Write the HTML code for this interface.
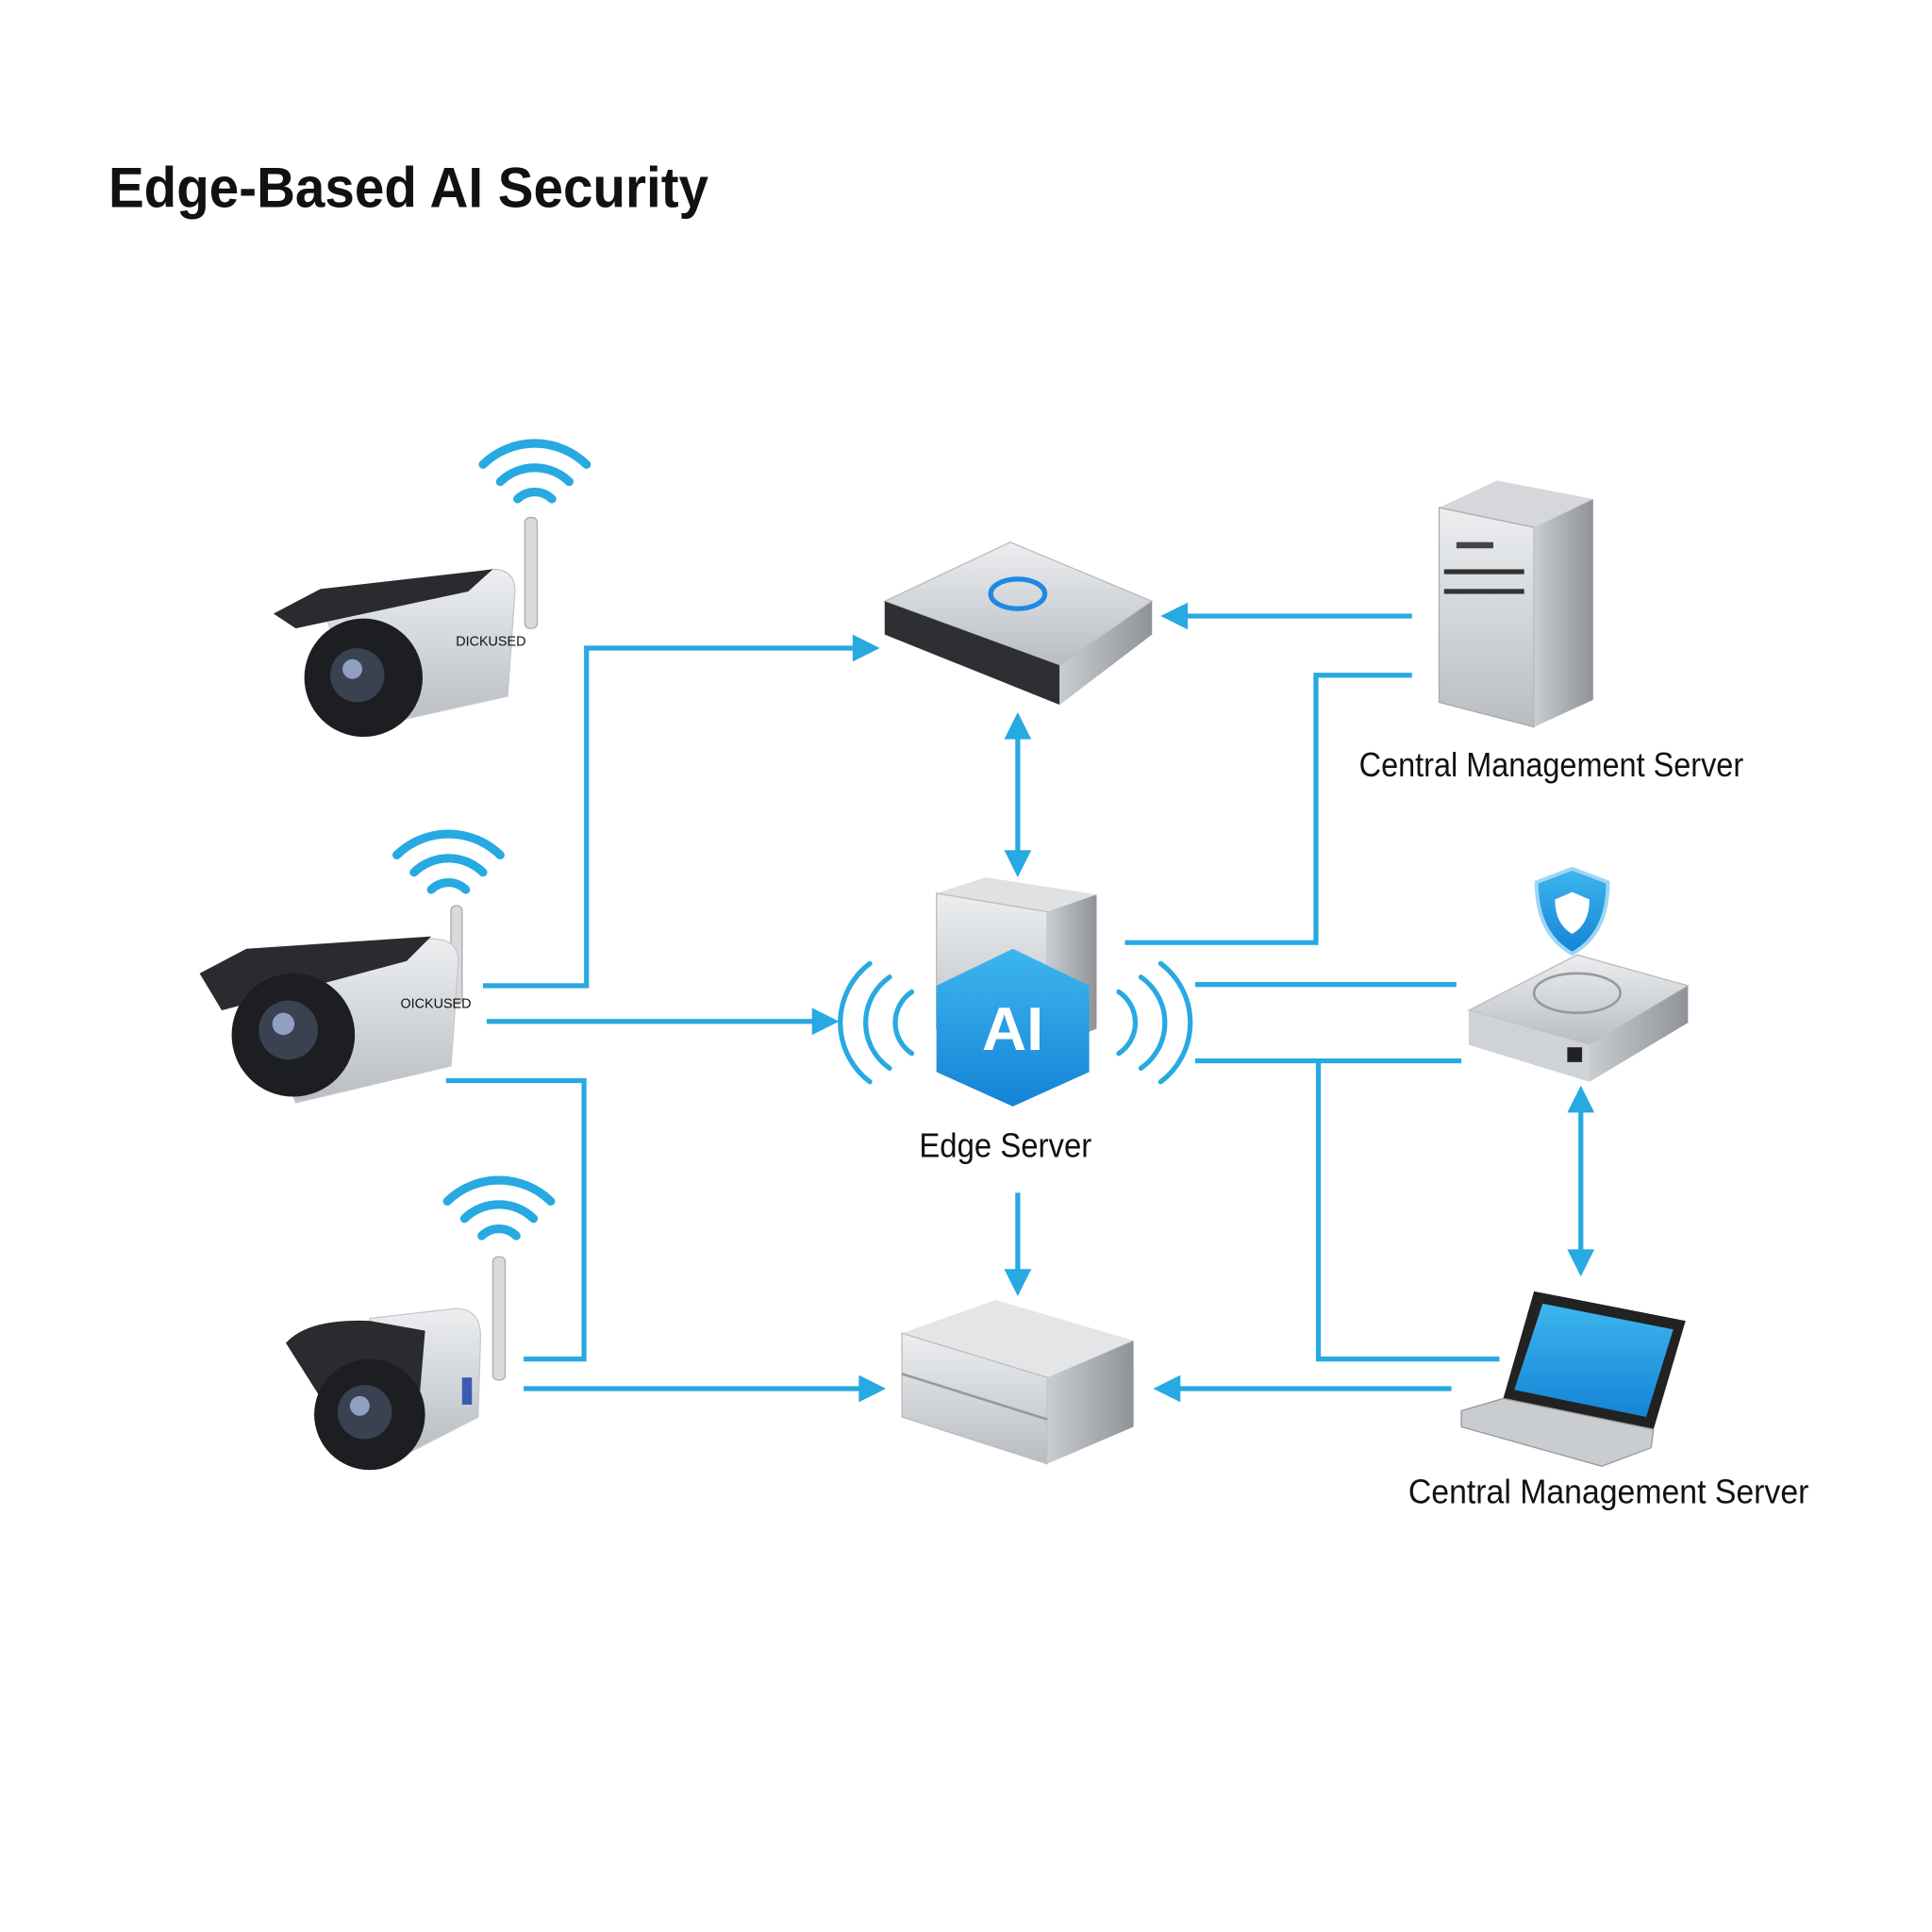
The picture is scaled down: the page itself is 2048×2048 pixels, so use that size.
<!DOCTYPE html>
<html><head><meta charset="utf-8"><style>
html,body{margin:0;padding:0;background:#fff;}
svg{display:block;}
text{font-family:"Liberation Sans",sans-serif;fill:#111;}
</style></head><body>
<svg width="2048" height="2048" viewBox="0 0 1568 1568" xmlns="http://www.w3.org/2000/svg">
<defs>
<linearGradient id="silver" x1="0" y1="0" x2="0" y2="1"><stop offset="0" stop-color="#eceef0"/><stop offset="1" stop-color="#b9bdc2"/></linearGradient>
<linearGradient id="side" x1="0" y1="0" x2="1" y2="0"><stop offset="0" stop-color="#c9ccd0"/><stop offset="1" stop-color="#8f9398"/></linearGradient>
<linearGradient id="blue" x1="0" y1="0" x2="0" y2="1"><stop offset="0" stop-color="#3db6ee"/><stop offset="1" stop-color="#1583d6"/></linearGradient>
</defs>
<rect width="1568" height="1568" fill="#fff"/>
<text x="88" y="168" font-size="46" font-weight="bold" textLength="487" lengthAdjust="spacingAndGlyphs">Edge-Based AI Security</text>

<!-- connectors -->
<g stroke="#27a9e1" stroke-width="4" fill="none">
<polyline points="392,800 476,800 476,526 700,526"/>
<line x1="395" y1="829" x2="667" y2="829"/>
<polyline points="362,877 474,877 474,1103 425,1103"/>
<line x1="425" y1="1127" x2="705" y2="1127"/>
<line x1="826" y1="592" x2="826" y2="698"/>
<line x1="826" y1="968" x2="826" y2="1038"/>
<line x1="1146" y1="500" x2="956" y2="500"/>
<polyline points="1146,548 1068,548 1068,765 913,765"/>
<line x1="970" y1="799" x2="1182" y2="799"/>
<line x1="970" y1="861" x2="1186" y2="861"/>
<polyline points="1070,861 1070,1103 1217,1103"/>
<line x1="1178" y1="1127" x2="950" y2="1127"/>
<line x1="1283" y1="895" x2="1283" y2="1022"/>
</g>
<g fill="#27a9e1">
<polygon points="692,515 714,526 692,537"/>
<polygon points="659,818 681,829 659,840"/>
<polygon points="697,1116 719,1127 697,1138"/>
<polygon points="815,600 826,578 837,600"/>
<polygon points="815,690 826,712 837,690"/>
<polygon points="815,1030 826,1052 837,1030"/>
<polygon points="964,489 942,500 964,511"/>
<polygon points="958,1116 936,1127 958,1138"/>
<polygon points="1272,903 1283,881 1294,903"/>
<polygon points="1272,1014 1283,1036 1294,1014"/>
</g>

<!-- wifi icons -->
<g fill="none" stroke="#27a9e1" stroke-width="7" stroke-linecap="round">
<g transform="translate(434,405)"><path d="M-42,-28 A60,60 0 0 1 42,-28"/><path d="M-28,-14 A40,40 0 0 1 28,-14"/><path d="M-14,0 A20,20 0 0 1 14,0"/></g>
<g transform="translate(364,722)"><path d="M-42,-28 A60,60 0 0 1 42,-28"/><path d="M-28,-14 A40,40 0 0 1 28,-14"/><path d="M-14,0 A20,20 0 0 1 14,0"/></g>
<g transform="translate(405,1003)"><path d="M-42,-28 A60,60 0 0 1 42,-28"/><path d="M-28,-14 A40,40 0 0 1 28,-14"/><path d="M-14,0 A20,20 0 0 1 14,0"/></g>
</g>

<!-- camera 1 -->
<g>
<rect x="426" y="420" width="10" height="90" rx="4" fill="#d8dadd" stroke="#aaa"/>
<path d="M260,490 L400,462 Q418,462 418,480 L412,565 L300,590 Z" fill="url(#silver)" stroke="#c5c8cc"/>
<path d="M222,498 L260,478 L400,462 L380,480 L240,510 Z" fill="#2a2b2e"/>
<circle cx="295" cy="550" r="48" fill="#1d1e21"/>
<circle cx="290" cy="548" r="22" fill="#3a4150"/><circle cx="286" cy="543" r="8" fill="#8fa0c0"/>
<text x="370" y="524" font-size="11" fill="#555">DICKUSED</text>
</g>
<!-- camera 2 -->
<g>
<rect x="366" y="735" width="9" height="80" rx="4" fill="#d8dadd" stroke="#aaa"/>
<path d="M200,790 L350,762 Q372,762 372,780 L366,865 L240,895 Z" fill="url(#silver)" stroke="#c5c8cc"/>
<path d="M162,790 L200,770 L350,760 L330,780 L180,820 Z" fill="#2a2b2e"/>
<circle cx="238" cy="840" r="50" fill="#1d1e21"/>
<circle cx="234" cy="836" r="24" fill="#3a4150"/><circle cx="230" cy="831" r="9" fill="#8fa0c0"/>
<text x="325" y="818" font-size="11" fill="#555">OICKUSED</text>
</g>
<!-- camera 3 -->
<g>
<rect x="400" y="1020" width="10" height="100" rx="4" fill="#d8dadd" stroke="#aaa"/>
<path d="M300,1070 L370,1062 Q390,1062 390,1085 L388,1150 L330,1180 Z" fill="url(#silver)" stroke="#c5c8cc"/>
<path d="M232,1090 Q250,1070 300,1072 L345,1080 L340,1140 L270,1150 Z" fill="#2a2b2e"/>
<circle cx="300" cy="1148" r="45" fill="#1d1e21"/>
<circle cx="296" cy="1146" r="22" fill="#3a4150"/><circle cx="292" cy="1141" r="8" fill="#8fa0c0"/>
<rect x="375" y="1118" width="8" height="22" fill="#3b5bb0"/>
</g>

<!-- router top -->
<g>
<path d="M718,488 L820,440 L935,488 L860,540 Z" fill="url(#silver)" stroke="#bbb"/>
<path d="M718,488 L860,540 L860,572 L718,515 Z" fill="#2d2f33"/>
<path d="M860,540 L935,488 L935,515 L860,572 Z" fill="url(#side)"/>
<ellipse cx="826" cy="482" rx="22" ry="12" fill="none" stroke="#1e88e5" stroke-width="4"/>
</g>

<!-- tower server -->
<g>
<path d="M1168,412 L1215,390 L1293,405 L1245,428 Z" fill="#d5d7da"/>
<path d="M1168,412 L1245,428 L1245,590 L1168,570 Z" fill="url(#silver)" stroke="#aaa"/>
<path d="M1245,428 L1293,405 L1293,568 L1245,590 Z" fill="url(#side)"/>
<rect x="1182" y="440" width="30" height="5" fill="#444"/>
<rect x="1172" y="462" width="65" height="4" fill="#333"/>
<rect x="1172" y="478" width="65" height="4" fill="#333"/>
</g>
<text x="1103" y="630" font-size="28" textLength="312" lengthAdjust="spacingAndGlyphs">Central Management Server</text>

<!-- edge server -->
<g>
<path d="M760,725 L800,712 L890,726 L850,740 Z" fill="#dfe1e3"/>
<path d="M760,725 L850,740 L850,850 L760,835 Z" fill="url(#silver)" stroke="#bbb"/>
<path d="M850,740 L890,726 L890,835 L850,850 Z" fill="url(#side)"/>
<path d="M822,770 L884,800 L884,870 L822,898 L760,870 L760,800 Z" fill="url(#blue)"/>
<text x="822" y="852" font-size="50" font-weight="bold" fill="#fff" style="fill:#fff" text-anchor="middle">AI</text>
</g>
<g fill="none" stroke="#27a9e1" stroke-width="4" stroke-linecap="round">
<path d="M740,805 A30,30 0 0 0 740,855"/><path d="M722,793 A45,45 0 0 0 722,867"/><path d="M706,782 A60,60 0 0 0 706,878"/>
<path d="M908,805 A30,30 0 0 1 908,855"/><path d="M926,793 A45,45 0 0 1 926,867"/><path d="M942,782 A60,60 0 0 1 942,878"/>
</g>
<text x="746" y="939" font-size="28" textLength="140" lengthAdjust="spacingAndGlyphs">Edge Server</text>

<!-- shield device -->
<g>
<path d="M1276,705 L1305,716 Q1305,758 1276,774 Q1247,758 1247,716 Z" fill="url(#blue)" stroke="#9ed6f6" stroke-width="3"/>
<path d="M1276,724 L1290,730 Q1290,750 1276,758 Q1262,750 1262,730 Z" fill="#fff"/>
<path d="M1192,820 L1280,775 L1370,800 L1290,848 Z" fill="url(#silver)" stroke="#bbb"/>
<path d="M1192,820 L1290,848 L1290,878 L1192,848 Z" fill="#cfd2d6"/>
<path d="M1290,848 L1370,800 L1370,830 L1290,878 Z" fill="url(#side)"/>
<ellipse cx="1280" cy="806" rx="35" ry="16" fill="none" stroke="#999" stroke-width="2"/>
<rect x="1272" y="850" width="12" height="12" fill="#222"/>
</g>

<!-- bottom switch -->
<g>
<path d="M732,1082 L808,1055 L920,1088 L850,1118 Z" fill="#e3e5e7"/>
<path d="M732,1082 L850,1118 L850,1188 L732,1150 Z" fill="url(#silver)" stroke="#bbb"/>
<path d="M850,1118 L920,1088 L920,1158 L850,1188 Z" fill="url(#side)"/>
<line x1="732" y1="1115" x2="850" y2="1152" stroke="#999" stroke-width="2"/>
</g>

<!-- laptop -->
<g>
<path d="M1245,1048 L1368,1072 L1342,1160 L1220,1135 Z" fill="#222"/>
<path d="M1252,1058 L1358,1079 L1336,1150 L1229,1128 Z" fill="url(#blue)"/>
<path d="M1186,1145 L1220,1135 L1342,1160 L1340,1175 L1300,1190 L1186,1158 Z" fill="#c9ccd0" stroke="#999"/>
</g>
<text x="1143" y="1220" font-size="28" textLength="325" lengthAdjust="spacingAndGlyphs">Central Management Server</text>
</svg>
</body></html>
